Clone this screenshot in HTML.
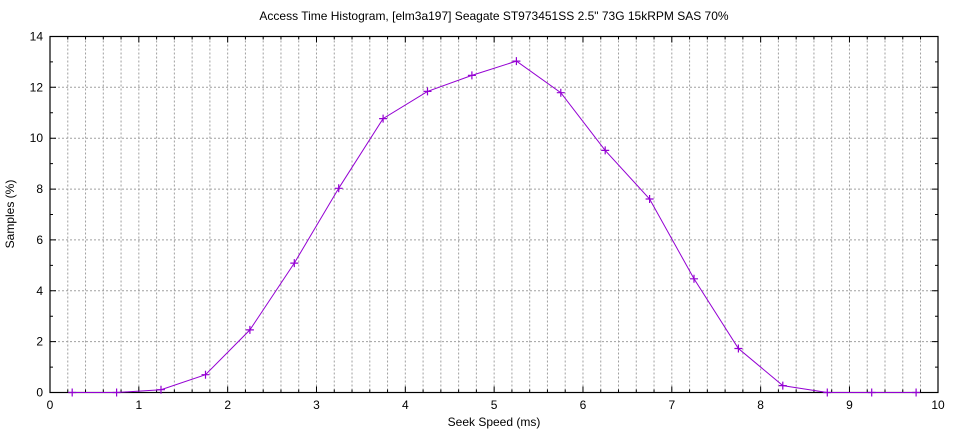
<!DOCTYPE html>
<html><head><meta charset="utf-8"><style>
html,body{margin:0;padding:0;background:#fff;}
svg{display:block;}
text{font-family:"Liberation Sans",sans-serif;font-size:12px;fill:#000;}
</style></head><body>
<svg width="960" height="432" viewBox="0 0 960 432" xmlns="http://www.w3.org/2000/svg">
<rect width="960" height="432" fill="#fff"/>
<g stroke="#a0a0a0" stroke-width="1" stroke-dasharray="2,2" fill="none">
<path d="M67.77 36.5V392.5M85.53 36.5V392.5M103.3 36.5V392.5M121.06 36.5V392.5M138.83 36.5V392.5M156.6 36.5V392.5M174.36 36.5V392.5M192.13 36.5V392.5M209.89 36.5V392.5M227.66 36.5V392.5M245.43 36.5V392.5M263.19 36.5V392.5M280.96 36.5V392.5M298.72 36.5V392.5M316.49 36.5V392.5M334.26 36.5V392.5M352.02 36.5V392.5M369.79 36.5V392.5M387.55 36.5V392.5M405.32 36.5V392.5M423.09 36.5V392.5M440.85 36.5V392.5M458.62 36.5V392.5M476.38 36.5V392.5M494.15 36.5V392.5M511.92 36.5V392.5M529.68 36.5V392.5M547.45 36.5V392.5M565.21 36.5V392.5M582.98 36.5V392.5M600.75 36.5V392.5M618.51 36.5V392.5M636.28 36.5V392.5M654.04 36.5V392.5M671.81 36.5V392.5M689.58 36.5V392.5M707.34 36.5V392.5M725.11 36.5V392.5M742.87 36.5V392.5M760.64 36.5V392.5M778.41 36.5V392.5M796.17 36.5V392.5M813.94 36.5V392.5M831.7 36.5V392.5M849.47 36.5V392.5M867.24 36.5V392.5M885 36.5V392.5M902.77 36.5V392.5M920.53 36.5V392.5"/>
<path d="M50 341.6H938M50 290.8H938M50 239.9H938M50 189.1H938M50 138.2H938M50 87.3H938"/>
</g>
<g stroke="#000" stroke-width="1" fill="none">
<!-- minor x ticks bottom/top -->
<path d="M67.77 392.5v-3M85.53 392.5v-3M103.3 392.5v-3M121.06 392.5v-3M156.6 392.5v-3M174.36 392.5v-3M192.13 392.5v-3M209.89 392.5v-3M245.43 392.5v-3M263.19 392.5v-3M280.96 392.5v-3M298.72 392.5v-3M334.26 392.5v-3M352.02 392.5v-3M369.79 392.5v-3M387.55 392.5v-3M423.09 392.5v-3M440.85 392.5v-3M458.62 392.5v-3M476.38 392.5v-3M511.92 392.5v-3M529.68 392.5v-3M547.45 392.5v-3M565.21 392.5v-3M600.75 392.5v-3M618.51 392.5v-3M636.28 392.5v-3M654.04 392.5v-3M689.58 392.5v-3M707.34 392.5v-3M725.11 392.5v-3M742.87 392.5v-3M778.41 392.5v-3M796.17 392.5v-3M813.94 392.5v-3M831.7 392.5v-3M867.24 392.5v-3M885 392.5v-3M902.77 392.5v-3M920.53 392.5v-3"/>
<path d="M67.77 36.5v3M85.53 36.5v3M103.3 36.5v3M121.06 36.5v3M156.6 36.5v3M174.36 36.5v3M192.13 36.5v3M209.89 36.5v3M245.43 36.5v3M263.19 36.5v3M280.96 36.5v3M298.72 36.5v3M334.26 36.5v3M352.02 36.5v3M369.79 36.5v3M387.55 36.5v3M423.09 36.5v3M440.85 36.5v3M458.62 36.5v3M476.38 36.5v3M511.92 36.5v3M529.68 36.5v3M547.45 36.5v3M565.21 36.5v3M600.75 36.5v3M618.51 36.5v3M636.28 36.5v3M654.04 36.5v3M689.58 36.5v3M707.34 36.5v3M725.11 36.5v3M742.87 36.5v3M778.41 36.5v3M796.17 36.5v3M813.94 36.5v3M831.7 36.5v3M867.24 36.5v3M885 36.5v3M902.77 36.5v3M920.53 36.5v3"/>
<!-- major x ticks -->
<path d="M138.83 392.5v-6M227.66 392.5v-6M316.49 392.5v-6M405.32 392.5v-6M494.15 392.5v-6M582.98 392.5v-6M671.81 392.5v-6M760.64 392.5v-6M849.47 392.5v-6"/>
<path d="M138.83 36.5v6M227.66 36.5v6M316.49 36.5v6M405.32 36.5v6M494.15 36.5v6M582.98 36.5v6M671.81 36.5v6M760.64 36.5v6M849.47 36.5v6"/>
<!-- y ticks -->
<path d="M50 341.6h6M50 290.8h6M50 239.9h6M50 189.1h6M50 138.2h6M50 87.3h6"/>
<path d="M938 341.6h-6M938 290.8h-6M938 239.9h-6M938 189.1h-6M938 138.2h-6M938 87.3h-6"/>
<path d="M50 367.1h3M50 316.2h3M50 265.4h3M50 214.5h3M50 163.6h3M50 112.8h3M50 61.9h3"/>
<path d="M938 367.1h-3M938 316.2h-3M938 265.4h-3M938 214.5h-3M938 163.6h-3M938 112.8h-3M938 61.9h-3"/>
</g>
<rect x="50" y="36.5" width="888" height="356" fill="none" stroke="#000" stroke-width="1.2"/>
<!-- data -->
<polyline fill="none" stroke="#9400d3" stroke-width="1" points="72.2,392.5 116.6,392.5 161,389.7 205.5,374.7 249.9,329.9 294.3,263.1 338.7,188.3 383.1,118.6 427.5,91.4 471.9,75.4 516.4,61.1 560.8,92.7 605.2,150.4 649.6,199 694,278.8 738.4,348.5 782.8,385.6 827.3,392.5 871.7,392.5 916.1,392.5"/>
<g stroke="#9400d3" stroke-width="1.2" fill="none">
<path d="M68.2 392.5h8M72.2 388.5v8M112.6 392.5h8M116.6 388.5v8M157 389.7h8M161 385.7v8M201.5 374.7h8M205.5 370.7v8M245.9 329.9h8M249.9 325.9v8M290.3 263.1h8M294.3 259.1v8M334.7 188.3h8M338.7 184.3v8M379.1 118.6h8M383.1 114.6v8M423.5 91.4h8M427.5 87.4v8M467.9 75.4h8M471.9 71.4v8M512.4 61.1h8M516.4 57.1v8M556.8 92.7h8M560.8 88.7v8M601.2 150.4h8M605.2 146.4v8M645.6 199h8M649.6 195v8M690 278.8h8M694 274.8v8M734.4 348.5h8M738.4 344.5v8M778.8 385.6h8M782.8 381.6v8M823.3 392.5h8M827.3 388.5v8M867.7 392.5h8M871.7 388.5v8M912.1 392.5h8M916.1 388.5v8"/>
</g>
<!-- labels -->
<g text-anchor="end">
<text x="43" y="396.5">0</text>
<text x="43" y="345.6">2</text>
<text x="43" y="294.8">4</text>
<text x="43" y="243.9">6</text>
<text x="43" y="193.1">8</text>
<text x="43" y="142.2">10</text>
<text x="43" y="91.3">12</text>
<text x="43" y="40.5">14</text>
</g>
<g text-anchor="middle">
<text x="50" y="409">0</text>
<text x="138.83" y="409">1</text>
<text x="227.66" y="409">2</text>
<text x="316.49" y="409">3</text>
<text x="405.32" y="409">4</text>
<text x="494.15" y="409">5</text>
<text x="582.98" y="409">6</text>
<text x="671.81" y="409">7</text>
<text x="760.64" y="409">8</text>
<text x="849.47" y="409">9</text>
<text x="938" y="409">10</text>
<text x="494" y="20">Access Time Histogram, [elm3a197] Seagate ST973451SS 2.5" 73G 15kRPM SAS 70%</text>
<text x="494" y="426">Seek Speed (ms)</text>
<text x="0" y="0" transform="translate(14,214) rotate(-90)">Samples (%)</text>
</g>
</svg>
</body></html>
